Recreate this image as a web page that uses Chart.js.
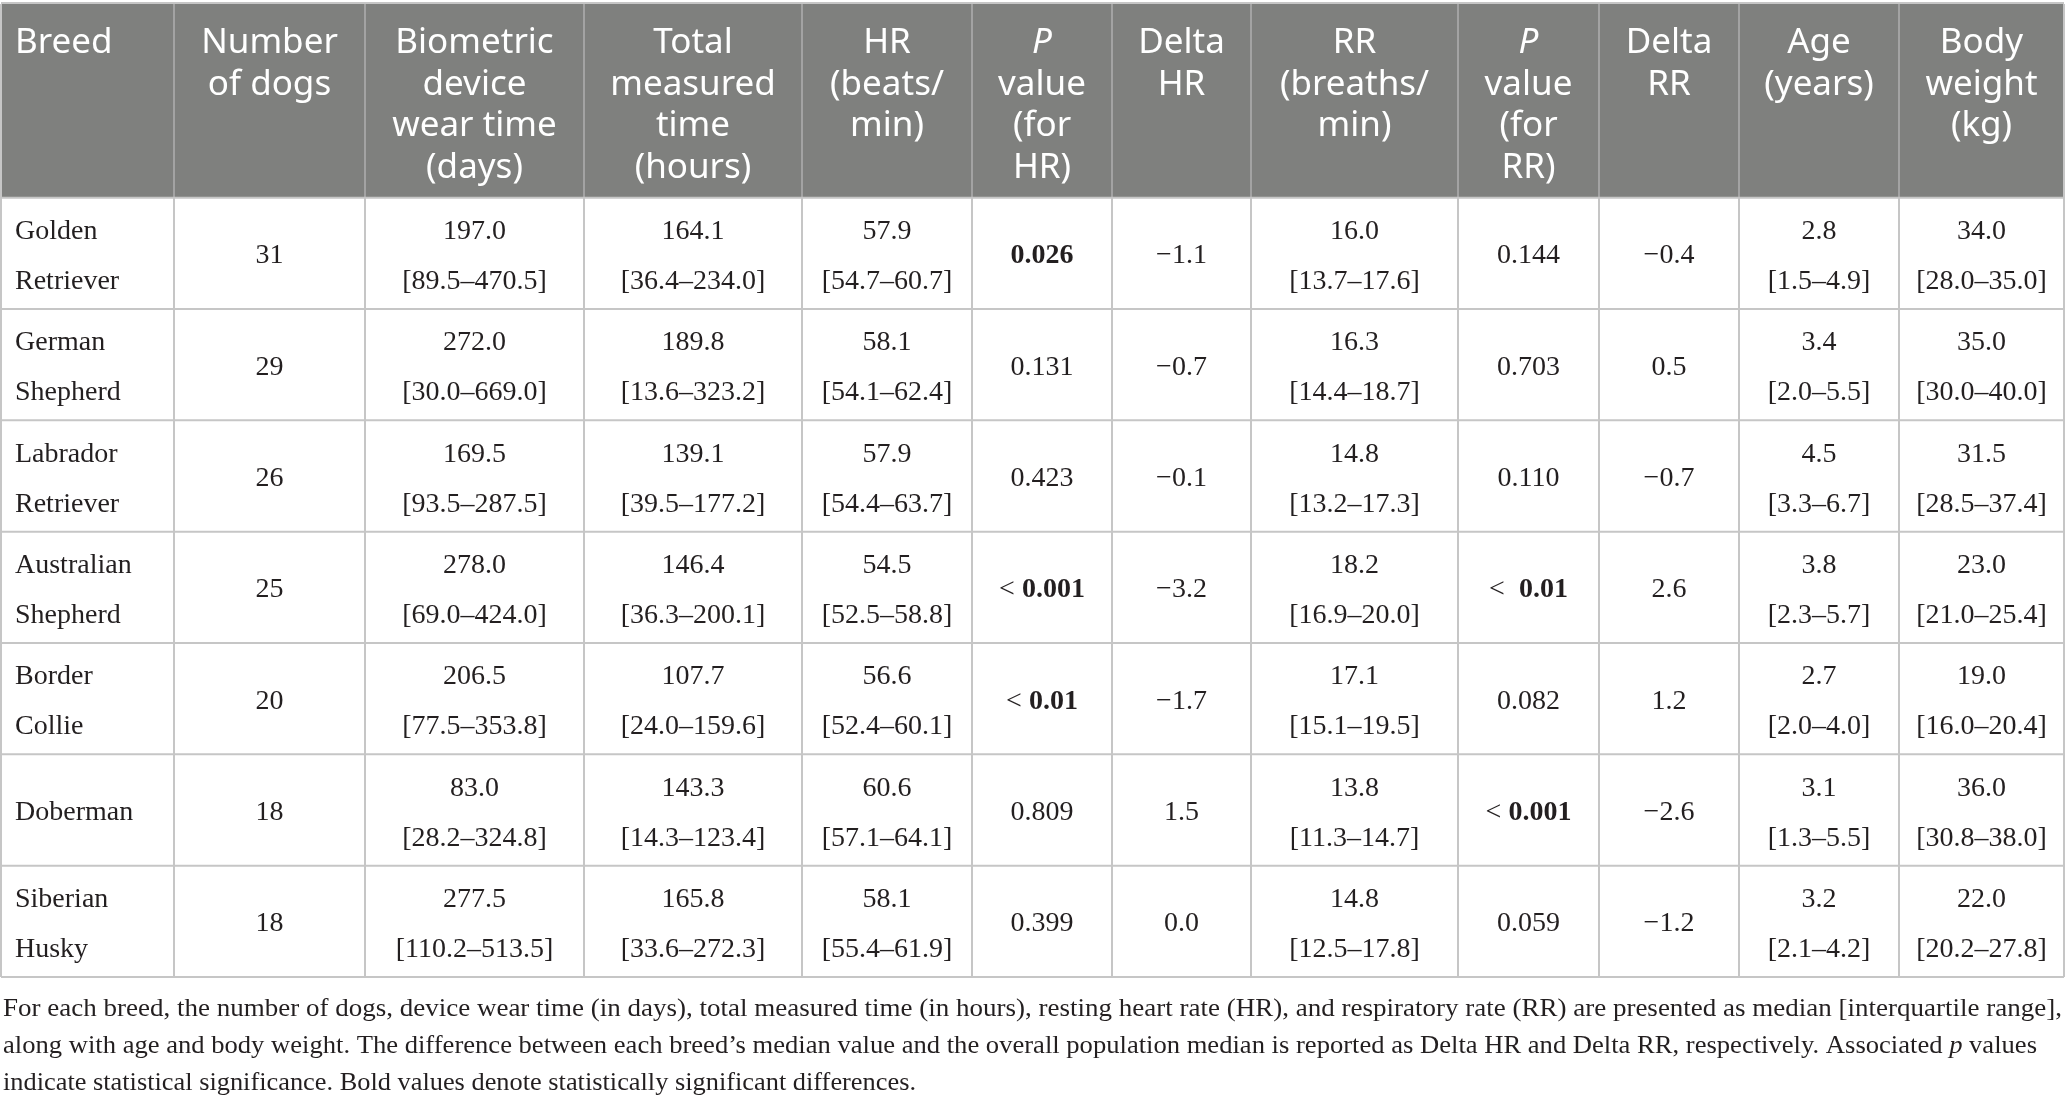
<!DOCTYPE html>
<html>
<head>
<meta charset="utf-8">
<script src="https://cdn.jsdelivr.net/npm/chart.js@4.4.1/dist/chart.umd.min.js"></script>
<style>
html,body{margin:0;padding:0;background:#ffffff;overflow:hidden;}
#wrap{width:2068px;height:1105px;position:relative;}
</style>
</head>
<body>
<div id="wrap"><canvas id="c" width="2068" height="1105"></canvas></div>
<script>
// ---------- DATA ----------
const breeds = ["Golden Retriever","German Shepherd","Labrador Retriever","Australian Shepherd","Border Collie","Doberman","Siberian Husky"];
const dogCount = [31,29,26,25,20,18,18];
const wearMedian = [197.0,272.0,169.5,278.0,206.5,83.0,277.5];
const wearIQR = [[89.5,470.5],[30.0,669.0],[93.5,287.5],[69.0,424.0],[77.5,353.8],[28.2,324.8],[110.2,513.5]];
const timeMedian = [164.1,189.8,139.1,146.4,107.7,143.3,165.8];
const timeIQR = [[36.4,234.0],[13.6,323.2],[39.5,177.2],[36.3,200.1],[24.0,159.6],[14.3,123.4],[33.6,272.3]];
const hrMedian = [57.9,58.1,57.9,54.5,56.6,60.6,58.1];
const hrIQR = [[54.7,60.7],[54.1,62.4],[54.4,63.7],[52.5,58.8],[52.4,60.1],[57.1,64.1],[55.4,61.9]];
const pHR = ["0.026","0.131","0.423","< 0.001","< 0.01","0.809","0.399"];
const sigHR = [true,false,false,true,true,false,false];
const deltaHR = [-1.1,-0.7,-0.1,-3.2,-1.7,1.5,0.0];
const rrMedian = [16.0,16.3,14.8,18.2,17.1,13.8,14.8];
const rrIQR = [[13.7,17.6],[14.4,18.7],[13.2,17.3],[16.9,20.0],[15.1,19.5],[11.3,14.7],[12.5,17.8]];
const pRR = ["0.144","0.703","0.110","<  0.01","0.082","< 0.001","0.059"];
const sigRR = [false,false,false,true,false,true,false];
const deltaRR = [-0.4,0.5,-0.7,2.6,1.2,-2.6,-1.2];
const ageMedian = [2.8,3.4,4.5,3.8,2.7,3.1,3.2];
const ageIQR = [[1.5,4.9],[2.0,5.5],[3.3,6.7],[2.3,5.7],[2.0,4.0],[1.3,5.5],[2.1,4.2]];
const weightMedian = [34.0,35.0,31.5,23.0,19.0,36.0,22.0];
const weightIQR = [[28.0,35.0],[30.0,40.0],[28.5,37.4],[21.0,25.4],[16.0,20.4],[30.8,38.0],[20.2,27.8]];

const headerLabels = [
  ["Breed"],
  ["Number","of dogs"],
  ["Biometric","device","wear time","(days)"],
  ["Total","measured","time","(hours)"],
  ["HR","(beats/","min)"],
  ["P","value","(for","HR)"],
  ["Delta","HR"],
  ["RR","(breaths/","min)"],
  ["P","value","(for","RR)"],
  ["Delta","RR"],
  ["Age","(years)"],
  ["Body","weight","(kg)"]
];
const footnoteLines = [
  [{t:"For each breed, the number of dogs, device wear time (in days), total measured time (in hours), resting heart rate (HR), and respiratory rate (RR) are presented as median [interquartile range],"}],
  [{t:"along with age and body weight. The difference between each breed\u2019s median value and the overall population median is reported as Delta HR and Delta RR, respectively. Associated "},{t:"p",italic:true},{t:" values"}],
  [{t:"indicate statistical significance. Bold values denote statistically significant differences."}]
];

// ---------- LAYOUT / STYLE ----------
const colWidths = [173,191,219,218,170,140,139,207,141,140,160,165];
const headerUnits = 1.74;            // header height in row units
const totalW = colWidths.reduce((a,b)=>a+b,0);
const colEdges = colWidths.reduce((acc,w)=>{acc.push(acc[acc.length-1]+w);return acc;},[0]);
const nRows = breeds.length;

const bodyFont = "'Liberation Serif', 'Times New Roman', serif";
const headFont = "'Noto Sans', 'Open Sans', sans-serif";
const textColor = "#231f20";

// ---------- CELL TEXT ----------
const f1 = v => v.toFixed(1);
const fIQR = p => "[" + f1(p[0]) + "\u2013" + f1(p[1]) + "]";
const fDelta = v => (v < 0 ? "\u2212" + f1(Math.abs(v)) : f1(v));
function pSegs(s, bold){
  if(!bold) return [{t:s}];
  const m = s.match(/^(<\s+)(.*)$/);
  if(m) return [{t:m[1]},{t:m[2],bold:true}];
  return [{t:s,bold:true}];
}
function cellLines(r,c){
  switch(c){
    case 0: return breeds[r].split(" ").map(w=>[{t:w}]);
    case 1: return [[{t:String(dogCount[r])}]];
    case 2: return [[{t:f1(wearMedian[r])}],[{t:fIQR(wearIQR[r])}]];
    case 3: return [[{t:f1(timeMedian[r])}],[{t:fIQR(timeIQR[r])}]];
    case 4: return [[{t:f1(hrMedian[r])}],[{t:fIQR(hrIQR[r])}]];
    case 5: return [pSegs(pHR[r],sigHR[r])];
    case 6: return [[{t:fDelta(deltaHR[r])}]];
    case 7: return [[{t:f1(rrMedian[r])}],[{t:fIQR(rrIQR[r])}]];
    case 8: return [pSegs(pRR[r],sigRR[r])];
    case 9: return [[{t:fDelta(deltaRR[r])}]];
    case 10: return [[{t:f1(ageMedian[r])}],[{t:fIQR(ageIQR[r])}]];
    case 11: return [[{t:f1(weightMedian[r])}],[{t:fIQR(weightIQR[r])}]];
  }
}

// anchor points: one per body cell, placed by the chart's own scales
const anchors = [];
for(let r=0;r<nRows;r++){
  for(let c=0;c<colWidths.length;c++){
    anchors.push({x:(colEdges[c]+colEdges[c+1])/2, y:headerUnits + r + 0.5, r:r, c:c});
  }
}

function segFont(s, size, family){
  return (s.italic?"italic ":"") + (s.bold?"bold ":"") + size + "px " + family;
}
function segsWidth(ctx, segs, size, family){
  let w=0; segs.forEach(s=>{ctx.font=segFont(s,size,family); w+=ctx.measureText(s.t).width;}); return w;
}
function drawSegs(ctx, segs, x, y, size, family, align){
  const w = segsWidth(ctx, segs, size, family);
  let cx = align==="center" ? x - w/2 : x;
  ctx.textAlign="left";
  segs.forEach(s=>{ctx.font=segFont(s,size,family); ctx.fillText(s.t,cx,y); cx+=ctx.measureText(s.t).width;});
}

const tablePlugin = {
  id:"tablePlugin",
  beforeDatasetsDraw(chart){
    const {ctx, scales:{x,y}} = chart;
    const X=v=>x.getPixelForValue(v), Y=v=>y.getPixelForValue(v);
    ctx.save();
    // header background
    ctx.fillStyle="#7f807e";
    ctx.fillRect(X(0), Y(0), X(totalW)-X(0), Y(headerUnits)-Y(0));
    // header separators
    ctx.strokeStyle="#a3a3a3"; ctx.lineWidth=2;
    for(let i=1;i<colEdges.length-1;i++){
      ctx.beginPath(); ctx.moveTo(X(colEdges[i]),Y(0)); ctx.lineTo(X(colEdges[i]),Y(headerUnits)); ctx.stroke();
    }
    // body grid
    ctx.strokeStyle="#c6c6c6"; ctx.lineWidth=2;
    for(let i=0;i<colEdges.length;i++){
      ctx.beginPath(); ctx.moveTo(X(colEdges[i]),Y(i===0||i===colEdges.length-1?0:headerUnits)); ctx.lineTo(X(colEdges[i]),Y(headerUnits+nRows)); ctx.stroke();
    }
    for(let r=0;r<=nRows;r++){
      ctx.beginPath(); ctx.moveTo(X(0),Y(headerUnits+r)); ctx.lineTo(X(totalW),Y(headerUnits+r)); ctx.stroke();
    }
    ctx.beginPath(); ctx.moveTo(X(0),Y(0)-1); ctx.lineTo(X(totalW),Y(0)-1); ctx.stroke();
    // header text
    ctx.fillStyle="#ffffff"; ctx.textBaseline="alphabetic";
    headerLabels.forEach((lines,c)=>{
      const left = colEdges[c]===0;
      lines.forEach((ln,i)=>{
        const seg=[{t:ln, italic: ln==="P"}];
        const yy = Y(0)+49+i*41.5;
        if(left) drawSegs(ctx,seg,X(colEdges[c])+14,yy,35,headFont,"left");
        else drawSegs(ctx,seg,X((colEdges[c]+colEdges[c+1])/2),yy,35,headFont,"center");
      });
    });
    ctx.restore();
  },
  afterDatasetsDraw(chart){
    const {ctx, scales:{x,y}, chartArea} = chart;
    const meta = chart.getDatasetMeta(0);
    ctx.save();
    ctx.fillStyle=textColor; ctx.textBaseline="alphabetic";
    meta.data.forEach((el,i)=>{
      const d = anchors[i];
      const lines = cellLines(d.r,d.c);
      const cy = el.y;
      const offs = lines.length===2 ? [-14.5,35.5] : [10];
      lines.forEach((segs,k)=>{
        if(d.c===0) drawSegs(ctx,segs,x.getPixelForValue(colEdges[0])+14,cy+offs[k],28,bodyFont,"left");
        else drawSegs(ctx,segs,el.x,cy+offs[k],28,bodyFont,"center");
      });
    });
    // footnote
    const targets=[2059,2034,913];
    footnoteLines.forEach((segs,i)=>{
      const w = segsWidth(ctx,segs,25,bodyFont);
      const sx = targets[i]/w;
      ctx.save();
      ctx.translate(3, chartArea.bottom+39+i*37);
      ctx.scale(sx,1);
      drawSegs(ctx,segs,0,0,25,bodyFont,"left");
      ctx.restore();
    });
    ctx.restore();
  }
};

new Chart(document.getElementById("c"), {
  type:"scatter",
  data:{datasets:[{label:"cells", data:anchors, pointRadius:0, pointHoverRadius:0}]},
  options:{
    responsive:false,
    animation:false,
    events:[],
    layout:{padding:{left:1,right:4,top:4,bottom:128}},
    plugins:{legend:{display:false},tooltip:{enabled:false},title:{display:false}},
    scales:{
      x:{type:"linear",min:0,max:totalW,display:false},
      y:{type:"linear",min:0,max:headerUnits+nRows,reverse:true,display:false}
    }
  },
  plugins:[tablePlugin]
});
</script>
</body>
</html>
